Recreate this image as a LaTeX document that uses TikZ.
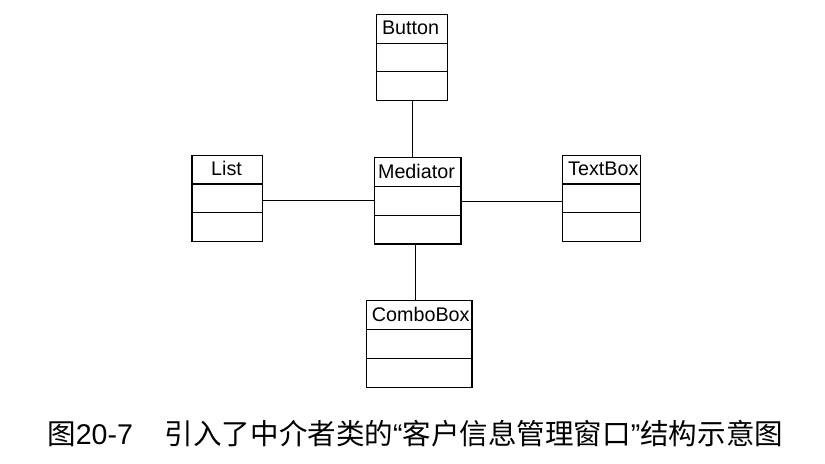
\documentclass[tikz,border=0pt]{standalone}
\usepackage{fontspec}
\setmainfont{Liberation Sans}
\newfontfamily\cjk{Noto Sans CJK SC}
\usetikzlibrary{fit}
\tikzset{
  clsbox/.style={draw=black, line width=0.8pt, inner sep=0pt, outer sep=0pt},
  clsline/.style={draw=black, line width=0.8pt},
  clstext/.style={anchor=base west, inner sep=0pt, font=\fontsize{14.8}{17}\selectfont},
  assoc/.style={draw=black, line width=0.8pt},
  captext/.style={anchor=base west, inner sep=0pt, font=\fontsize{21.4}{25}\selectfont}
}
\newcommand\umlclass[9]{%
  \node[clsbox, fit={(#2,#3) (#4,#5)}] (#1) {};
  \draw[clsline] (#2,#6) -- (#4,#6);
  \draw[clsline] (#2,#7) -- (#4,#7);
  \node[clstext] (#1-name) at (#8,#9) {#1};
}
\begin{document}
\begin{tikzpicture}[x=0.75pt,y=-0.75pt]
\useasboundingbox (0,0) rectangle (825,464);
\umlclass{Button}{376.3}{14.3}{447.7}{100.7}{43.3}{71.7}{381.8}{35}
\umlclass{List}{192}{155.3}{262.7}{241.7}{184}{212.7}{210.9}{175.7}
\umlclass{Mediator}{374.3}{157.7}{461}{244}{186.7}{215.7}{377.8}{178}
\umlclass{TextBox}{562.7}{155.7}{640.7}{241.7}{184}{212.7}{567.9}{175}
\umlclass{ComboBox}{366.7}{300.7}{472}{387.3}{329.3}{358.3}{371.7}{321.7}
\coordinate (vtop) at (412.5,0);
\coordinate (vbot) at (415.7,0);
\coordinate (hleft) at (0,200.3);
\coordinate (hright) at (0,201.7);
\draw[assoc] (Button.south -| vtop) -- (Mediator.north -| vtop);
\draw[assoc] (Mediator.south -| vbot) -- (ComboBox.north -| vbot);
\draw[assoc] (List.east |- hleft) -- (Mediator.west |- hleft);
\draw[assoc] (Mediator.east |- hright) -- (TextBox.west |- hright);
\node[captext] (caption) at (47,444) {{\cjk 图}20-7\hspace{24pt}{\cjk 引入了中介者类的}“{\cjk 客户信息管理窗口}”{\cjk 结构示意图}};
\end{tikzpicture}
\end{document}
